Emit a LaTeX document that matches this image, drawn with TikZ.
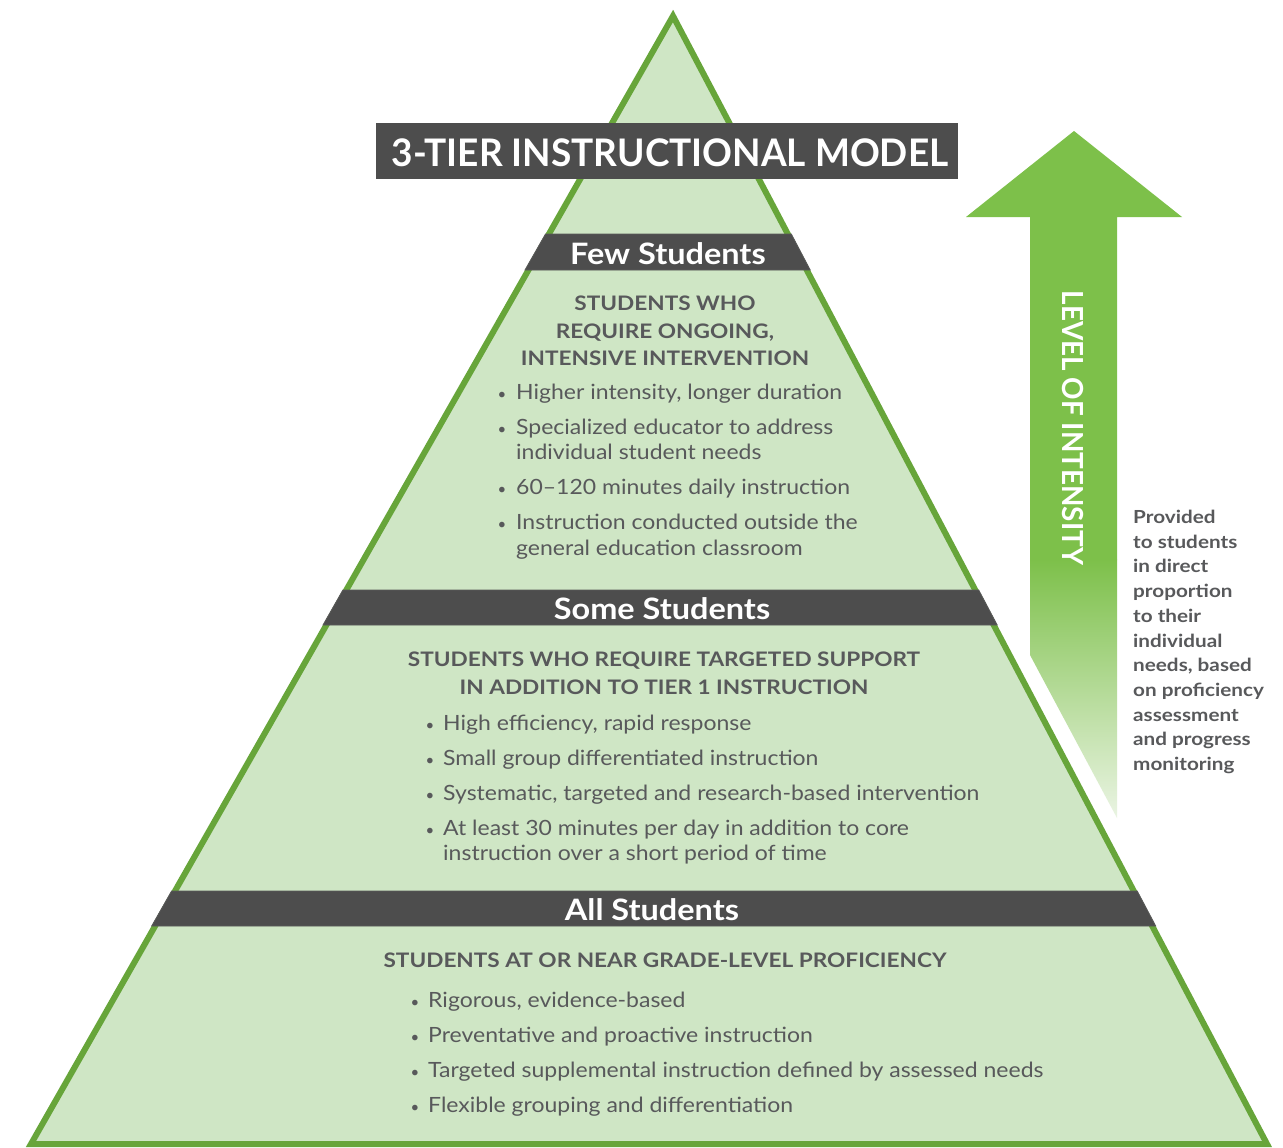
\documentclass[tikz,border=0pt]{standalone}
\usepackage{fontspec}
\setmainfont{Lato}
\newfontfamily\hdfont[FakeStretch=1.13]{Lato}
\newfontfamily\bulfont[FakeStretch=1.095]{Lato}
\newfontfamily\bandfont[FakeStretch=1.1]{Lato}
\newfontfamily\titlefont[FakeStretch=0.974]{Lato}
\newfontfamily\loifont[FakeStretch=0.96]{Lato}
\newfontfamily\sidefont[FakeStretch=1.15]{Lato}
\definecolor{pyrfill}{HTML}{CFE6C5}
\definecolor{pyrline}{HTML}{67A53A}
\definecolor{bandgray}{HTML}{4D4D4D}
\definecolor{arrowgreen}{HTML}{7DC04A}
\definecolor{arrowfade}{HTML}{EAF4E3}
\definecolor{txtgray}{HTML}{58595B}
\begin{document}
\begin{tikzpicture}[x=1pt,y=-1pt,
  hdr/.style={text=txtgray, font=\hdfont\bfseries\fontsize{20}{27}\selectfont, anchor=base, inner sep=0pt},
  bul/.style={text=txtgray, font=\bulfont\fontsize{21}{25}\selectfont, anchor=base west, inner sep=0pt},
  dot/.style={text=txtgray, font=\fontsize{15}{25}\selectfont, anchor=base, inner sep=0pt},
  bandlbl/.style={text=white, font=\bandfont\bfseries\fontsize{29.5}{30}\selectfont, anchor=base, inner sep=0pt},
  bandshape/.style={fill=bandgray, draw=gray!70!black, line width=0.8pt},
]
\useasboundingbox (0,0) rectangle (1283,1148);
\fill[white] (0,0) rectangle (1283,1148);

% pyramid
\draw[fill=pyrfill, draw=pyrline, line width=6pt, line join=miter] (673,16) -- (1267,1144) -- (31,1144) -- cycle;

% title
\fill[bandgray] (376,123) rectangle (958,179);
\node[text=white, font=\titlefont\bfseries\fontsize{38}{40}\selectfont, anchor=base, inner sep=0pt] (title) at (670,166) {3-TIER INSTRUCTIONAL MODEL};

% bands
\filldraw[bandshape] (545.5,234) -- (791.3,234) -- (810.2,270) -- (525.0,270) -- cycle;
\filldraw[bandshape] (342.9,590) -- (978.7,590) -- (997.2,625) -- (323.0,625) -- cycle;
\filldraw[bandshape] (171.6,891) -- (1137.2,891) -- (1155.7,926) -- (151.7,926) -- cycle;
\node[bandlbl] (few) at (668,264) {Few Students};
\node[bandlbl] (some) at (662,619) {Some Students};
\node[bandlbl] (all) at (652,920) {All Students};

% tier 3 text
\node[hdr] (h31) at (665,310) {STUDENTS WHO};
\node[hdr] (h32) at (665,338) {REQUIRE ONGOING,};
\node[hdr] (h33) at (665,365) {INTENSIVE INTERVENTION};
\foreach \y in {399,434,494,529} \node[dot] (d3\y) at (502,\y) {•};
\foreach \y/\t in {399/{Higher intensity, longer duration},434/{Specialized educator to address},459/{individual student needs},494/{60–120 minutes daily instruction},529/{Instruction conducted outside the},555/{general education classroom}}
  \node[bul] (b3\y) at (516,\y) {\t};

% tier 2 text
\node[hdr] (h21) at (664,666) {STUDENTS WHO REQUIRE TARGETED SUPPORT};
\node[hdr] (h22) at (664,694) {IN ADDITION TO TIER 1 INSTRUCTION};
\foreach \y in {730,765,800,835} \node[dot] (d2\y) at (430,\y) {•};
\foreach \y/\t in {730/{High efficiency, rapid response},765/{Small group differentiated instruction},800/{Systematic, targeted and research-based intervention},835/{At least 30 minutes per day in addition to core},860/{instruction over a short period of time}}
  \node[bul] (b2\y) at (443,\y) {\t};

% tier 1 text
\node[hdr] (h11) at (665,967) {STUDENTS AT OR NEAR GRADE-LEVEL PROFICIENCY};
\foreach \y in {1007,1042,1077,1112} \node[dot] (d1\y) at (415,\y) {•};
\foreach \y/\t in {1007/{Rigorous, evidence-based},1042/{Preventative and proactive instruction},1077/{Targeted supplemental instruction defined by assessed needs},1112/{Flexible grouping and differentiation}}
  \node[bul] (b1\y) at (428,\y) {\t};

% intensity arrow
\fill[arrowgreen] (966,217) -- (1074,131) -- (1182,217) -- (1117,217) -- (1117,560) -- (1030,560) -- (1030,217) -- cycle;
\shade[top color=arrowgreen, bottom color=arrowfade] (1030,559.5) -- (1117,559.5) -- (1117,818) -- (1030,655) -- cycle;
\node[text=white, font=\loifont\bfseries\fontsize{29}{30}\selectfont, rotate=-90, inner sep=0pt] (loi) at (1073,428) {LEVEL OF INTENSITY};

\node[text=txtgray, font=\sidefont\bfseries\fontsize{18}{24.7}\selectfont, align=left, anchor=north west, inner sep=0pt] (side) at (1133,510)
  {Provided\\to students\\in direct\\proportion\\to their\\individual\\needs, based\\on proficiency\\assessment\\and progress\\monitoring};
\end{tikzpicture}
\end{document}
